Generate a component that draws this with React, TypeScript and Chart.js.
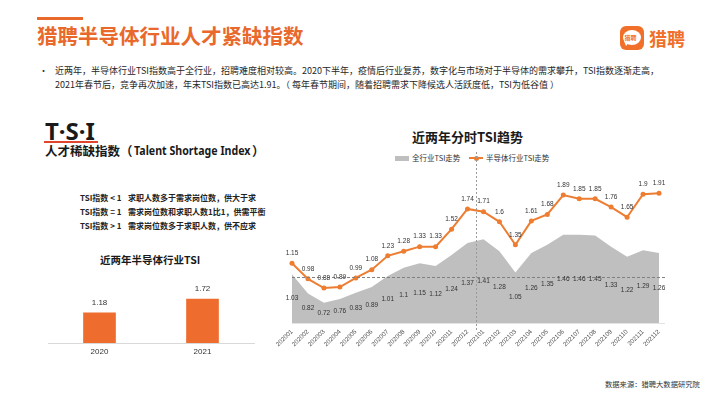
import React, { useEffect, useRef } from 'react';
import { Chart, registerables } from 'chart.js';

Chart.register(...registerables);

const months = [
  '202001', '202002', '202003', '202004', '202005', '202006', '202007', '202008', '202009', '202010', '202011', '202012',
  '202101', '202102', '202103', '202104', '202105', '202106', '202107', '202108', '202109', '202110', '202111', '202112',
];
const industryTSI = [1.03, 0.82, 0.72, 0.76, 0.83, 0.89, 1.01, 1.1, 1.15, 1.12, 1.24, 1.37, 1.41, 1.28, 1.05, 1.26, 1.35, 1.46, 1.46, 1.45, 1.33, 1.22, 1.29, 1.26];
const semiTSI = [1.15, 0.98, 0.88, 0.89, 0.99, 1.08, 1.23, 1.28, 1.33, 1.33, 1.52, 1.74, 1.71, 1.6, 1.35, 1.61, 1.68, 1.89, 1.85, 1.85, 1.76, 1.65, 1.9, 1.91];
const years = ['2020', '2021'];
const yearTSI = [1.18, 1.72];

const CJK = '"Noto Sans CJK SC", "Noto Sans", sans-serif';
const LAT = '"Liberation Sans", "Noto Sans", sans-serif';
const ORANGE = '#E9682B';
const LINE_ORANGE = '#ED7D31';

const trendPlugin = {
  id: 'trendDecor',
  afterDatasetsDraw(chart: any) {
    const ctx = chart.ctx;
    const { left, right, top, bottom } = chart.chartArea;
    const xs = chart.scales.x;
    const ys = chart.scales.y;
    ctx.save();
    // base line
    ctx.strokeStyle = '#e3e3e3';
    ctx.lineWidth = 1;
    ctx.beginPath();
    ctx.moveTo(left, bottom + 0.5);
    ctx.lineTo(right + 6, bottom + 0.5);
    ctx.stroke();
    // dashed line at 1.0
    const y1 = Math.round(ys.getPixelForValue(1)) + 0.5;
    ctx.setLineDash([3, 2]);
    ctx.strokeStyle = '#808080';
    ctx.beginPath();
    ctx.moveTo(left, y1);
    ctx.lineTo(right + 8, y1);
    ctx.stroke();
    // vertical dotted separator between years
    const xv = Math.round((xs.getPixelForValue(11) + xs.getPixelForValue(12)) / 2) + 0.5;
    ctx.setLineDash([2, 2]);
    ctx.strokeStyle = '#9a9a9a';
    ctx.beginPath();
    ctx.moveTo(xv, top - 33);
    ctx.lineTo(xv, bottom + 7);
    ctx.stroke();
    ctx.setLineDash([]);
    // labels
    ctx.font = '6.5px ' + LAT;
    ctx.fillStyle = '#333333';
    ctx.textAlign = 'center';
    ctx.textBaseline = 'middle';
    const semiMeta = chart.getDatasetMeta(0);
    semiMeta.data.forEach((pt: any, i: number) => {
      ctx.fillText(String(semiTSI[i]), pt.x, pt.y - 10);
    });
    const indMeta = chart.getDatasetMeta(1);
    indMeta.data.forEach((pt: any, i: number) => {
      ctx.fillText(String(industryTSI[i]), pt.x, (pt.y + bottom) / 2);
    });
    ctx.restore();
  },
};

const barLabelPlugin = {
  id: 'barLabels',
  afterDatasetsDraw(chart: any) {
    const ctx = chart.ctx;
    ctx.save();
    ctx.font = '8px ' + LAT;
    ctx.fillStyle = '#333333';
    ctx.textAlign = 'center';
    ctx.textBaseline = 'middle';
    chart.getDatasetMeta(0).data.forEach((bar: any, i: number) => {
      ctx.fillText(String(yearTSI[i]), bar.x, bar.y - 10);
    });
    ctx.restore();
  },
};

function T(props: { x: number; y: number; size: number; children: any; color?: string; weight?: any; family?: string; style?: any }) {
  const { x, y, size, children, color = '#262626', weight = 'normal', family = CJK, style = {} } = props;
  return (
    <div
      style={{
        position: 'absolute',
        left: x,
        top: y - size / 2,
        fontSize: size,
        lineHeight: `${size}px`,
        height: size,
        whiteSpace: 'nowrap',
        color,
        fontWeight: weight,
        fontFamily: family,
        ...style,
      }}
    >
      {children}
    </div>
  );
}

export default function App() {
  const trendRef = useRef<HTMLCanvasElement>(null);
  const barRef = useRef<HTMLCanvasElement>(null);

  useEffect(() => {
    const trend = new Chart(trendRef.current as HTMLCanvasElement, {
      type: 'line',
      data: {
        labels: months,
        datasets: [
          {
            label: '半导体行业TSI走势',
            data: semiTSI,
            borderColor: LINE_ORANGE,
            backgroundColor: LINE_ORANGE,
            borderWidth: 2,
            pointRadius: 2.5,
            pointBackgroundColor: LINE_ORANGE,
            pointBorderWidth: 0,
            tension: 0,
            fill: false,
          },
          {
            label: '全行业TSI走势',
            data: industryTSI,
            borderWidth: 0,
            borderColor: 'rgba(0,0,0,0)',
            backgroundColor: '#BFBFBF',
            pointRadius: 0,
            tension: 0,
            fill: 'start',
          },
        ],
      },
      options: {
        animation: false,
        responsive: false,
        maintainAspectRatio: false,
        layout: { padding: { left: 22, right: 31, top: 40, bottom: 0 } },
        plugins: { legend: { display: false }, tooltip: { enabled: false } },
        scales: {
          x: {
            offset: false,
            grid: { display: false, drawTicks: false },
            border: { display: false },
            ticks: {
              minRotation: 45,
              maxRotation: 45,
              autoSkip: false,
              padding: 5,
              color: '#4a4a4a',
              font: { size: 6.3, family: LAT },
            },
            afterFit: (s: any) => {
              s.height = 32;
            },
          },
          y: { display: false, min: 0.5, max: 2.0 },
        },
      },
      plugins: [trendPlugin],
    });

    const bar = new Chart(barRef.current as HTMLCanvasElement, {
      type: 'bar',
      data: {
        labels: years,
        datasets: [{ data: yearTSI, backgroundColor: '#EE6C2D', barThickness: 32 }],
      },
      options: {
        animation: false,
        responsive: false,
        maintainAspectRatio: false,
        layout: { padding: { left: 8, right: 8, top: 22, bottom: 0 } },
        plugins: { legend: { display: false }, tooltip: { enabled: false } },
        scales: {
          x: {
            grid: { display: false, drawTicks: false },
            border: { display: true, color: '#d9d9d9', width: 1 },
            ticks: { padding: 4, color: '#333333', font: { size: 8, family: LAT } },
            afterFit: (s: any) => {
              s.height = 22;
            },
          },
          y: { display: false, min: 0, max: 2 },
        },
      },
      plugins: [barLabelPlugin],
    });

    return () => {
      trend.destroy();
      bar.destroy();
    };
  }, []);

  return (
    <div style={{ position: 'fixed', left: 0, top: 0, width: 710, height: 399, background: '#ffffff', overflow: 'hidden' }}>
      {/* header */}
      <div style={{ position: 'absolute', left: 37, top: 17, width: 46, height: 3, background: ORANGE }} />
      <T x={37} y={35} size={20.5} color={ORANGE} weight="bold">猎聘半导体行业人才紧缺指数</T>

      {/* logo */}
      <div style={{ position: 'absolute', left: 620, top: 26, width: 24, height: 24, borderRadius: 6, background: '#F0702A' }}>
        <div style={{ position: 'absolute', left: 3, top: 4, width: 18, height: 15, borderRadius: '50%', background: '#ffffff' }} />
        <div style={{ position: 'absolute', left: 4, top: 15, width: 0, height: 0, borderLeft: '2px solid transparent', borderRight: '4px solid transparent', borderTop: '5px solid #ffffff' }} />
        <div style={{ position: 'absolute', left: 4.5, top: 8, fontSize: 6, lineHeight: '7px', color: '#F0702A', fontFamily: CJK, fontWeight: 'bold', whiteSpace: 'nowrap' }}>猎聘</div>
      </div>
      <T x={649} y={38} size={18} color="#F0702A" weight="bold">猎聘</T>

      {/* bullet text */}
      <T x={39} y={70} size={9} color="#333">•</T>
      <T x={55} y={70} size={9} color="#262626">近两年，半导体行业TSI指数高于全行业，招聘难度相对较高。2020下半年，疫情后行业复苏，数字化与市场对于半导体的需求攀升，TSI指数逐渐走高，</T>
      <T x={55} y={84} size={9} color="#262626">2021年春节后，竞争再次加速，年末TSI指数已高达1.91。（ 每年春节期间，随着招聘需求下降候选人活跃度低，TSI为低谷值 ）</T>

      {/* TSI heading */}
      <T x={45} y={131} size={24} color="#1a1a1a" weight="bold" family='"Noto Sans", sans-serif'>T·S·I</T>
      <div style={{ position: 'absolute', left: 44, top: 141, width: 54, height: 1.5, background: '#E0452F' }} />
      <T x={45} y={151} size={12.5} color="#1a1a1a" weight="bold">人才稀缺指数（</T>
      <T x={134} y={151} size={12.5} color="#1a1a1a" weight="bold" family='"Noto Sans", sans-serif' style={{ transform: 'scaleX(0.85)', transformOrigin: 'left center' }}>Talent Shortage Index</T>
      <T x={252} y={151} size={12.5} color="#1a1a1a" weight="bold">）</T>

      <T x={80} y={198} size={8} color="#222" weight="bold">TSI指数 &lt; 1</T>
      <T x={128} y={198} size={8} color="#222" weight="bold">求职人数多于需求岗位数，供大于求</T>
      <T x={80} y={212} size={8} color="#222" weight="bold">TSI指数 = 1</T>
      <T x={128} y={212} size={8} color="#222" weight="bold">需求岗位数和求职人数1比1，供需平衡</T>
      <T x={80} y={226} size={8} color="#222" weight="bold">TSI指数 &gt; 1</T>
      <T x={128} y={226} size={8} color="#222" weight="bold">需求岗位数多于求职人数，供不应求</T>

      {/* bar chart */}
      <T x={100} y={260} size={10.5} color="#1a1a1a" weight="bold">近两年半导体行业TSI</T>
      <canvas ref={barRef} width={222} height={95} style={{ position: 'absolute', left: 40, top: 270, width: 222, height: 95 }} />

      {/* trend chart */}
      <T x={412} y={136} size={13} color="#1a1a1a" weight="bold">近两年分时TSI趋势</T>
      <div style={{ position: 'absolute', left: 395, top: 156, width: 14, height: 5, background: '#BFBFBF' }} />
      <T x={412} y={158} size={7.5} color="#333">全行业TSI走势</T>
      <div style={{ position: 'absolute', left: 469, top: 157, width: 14, height: 2, background: LINE_ORANGE }} />
      <div style={{ position: 'absolute', left: 473.5, top: 155.5, width: 5, height: 5, borderRadius: '50%', background: LINE_ORANGE }} />
      <T x={486} y={158} size={7.5} color="#333">半导体行业TSI走势</T>
      <canvas ref={trendRef} width={420} height={210} style={{ position: 'absolute', left: 270, top: 145, width: 420, height: 210 }} />

      {/* source */}
      <T x={605} y={385} size={7.3} color="#333">数据来源：猎聘大数据研究院</T>
    </div>
  );
}
